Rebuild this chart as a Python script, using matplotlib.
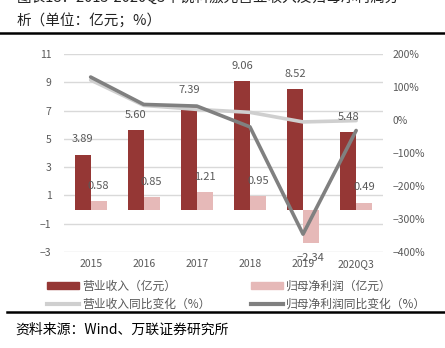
import matplotlib
matplotlib.use("Agg")
import matplotlib.pyplot as plt
import numpy as np
from matplotlib.lines import Line2D
from matplotlib.patches import Patch
from matplotlib.ticker import FuncFormatter

plt.rcParams['font.family'] = ['Noto Sans CJK SC', 'DejaVu Sans']
plt.rcParams['axes.unicode_minus'] = True

years = ['2015', '2016', '2017', '2018', '2019', '2020Q3']
revenue = [3.89, 5.60, 7.39, 9.06, 8.52, 5.48]          # 亿元
net_profit = [0.58, 0.85, 1.21, 0.95, -2.34, 0.49]      # 亿元
revenue_yoy = [121, 44, 32, 23, -6, -2]                 # %
profit_yoy = [130, 47, 42, -21, -346, -32]              # %

c_rev = '#953735'
c_np = '#E6B9B8'
c_rev_yoy = '#CFCFCF'
c_np_yoy = '#808080'
txt = '#595959'

fig = plt.figure(figsize=(4.45, 3.48), dpi=100)
ax = fig.add_axes([0.144, 0.276, 0.716, 0.569])
ax2 = ax.twinx()

x = np.arange(len(years))
w = 0.3
ax.bar(x - w / 2, revenue, w, color=c_rev, zorder=2)
ax.bar(x + w / 2, net_profit, w, color=c_np, zorder=2)

ax.set_xlim(-0.5, len(years) - 0.5)
ax.set_ylim(-3, 11)
ax.set_yticks(np.arange(-3, 12, 2))
ax.grid(axis='y', color='#D9D9D9', lw=1, zorder=0)
ax.set_axisbelow(True)
ax.set_xticks(x)
ax.set_xticklabels(years)

ax2.plot(x, revenue_yoy, color=c_rev_yoy, lw=2.6, solid_capstyle='round', zorder=3)
ax2.plot(x, profit_yoy, color=c_np_yoy, lw=2.6, solid_capstyle='round', zorder=4)
ax2.set_ylim(-400, 200)
ax2.set_yticks(np.arange(-400, 201, 100))
ax2.yaxis.set_major_formatter(FuncFormatter(lambda v, p: f'{v:.0f}%'.replace('-', '\u2212')))

for a in (ax, ax2):
    for s in a.spines.values():
        s.set_visible(False)
    a.tick_params(length=0, labelsize=7.5, labelcolor=txt)
ax.tick_params(axis='y', pad=9)
ax.tick_params(axis='x', pad=5)
ax2.tick_params(axis='y', pad=7)

# value labels, drawn on the top axes so they sit over the lines
for xi, v in zip(x, revenue):
    ax2.annotate(f'{v:.2f}', (xi - w / 2, v), xycoords=ax.transData,
                 xytext=(0, 11), textcoords='offset points',
                 ha='center', va='center', fontsize=8, color=txt, zorder=5)
for xi, v in zip(x, net_profit):
    off = 11 if v >= 0 else -11
    ax2.annotate(f'{v:.2f}'.replace('-', '\u2212'), (xi + w / 2, v), xycoords=ax.transData,
                 xytext=(0, off), textcoords='offset points',
                 ha='center', va='center', fontsize=8, color=txt, zorder=5)

handles = [Patch(color=c_rev), Line2D([], [], color=c_rev_yoy, lw=3),
           Patch(color=c_np), Line2D([], [], color=c_np_yoy, lw=3)]
labels = ['营业收入（亿元）', '营业收入同比变化（%）',
          '归母净利润（亿元）', '归母净利润同比变化（%）']
leg = fig.legend(handles, labels, ncol=2, loc='upper left',
                 bbox_to_anchor=(0.105, 0.197), frameon=False,
                 fontsize=8.5, handlelength=2.7, handleheight=0.6,
                 handletextpad=0.3, columnspacing=3.4, labelspacing=0.45,
                 borderpad=0, borderaxespad=0)
for t in leg.get_texts():
    t.set_color(txt)

# header / footer rules
fig.add_artist(Line2D([0.0, 1.0], [0.905, 0.905], transform=fig.transFigure,
                      color='black', lw=1.8))
fig.add_artist(Line2D([0.015, 1.0], [0.103, 0.103], transform=fig.transFigure,
                      color='black', lw=1.8))

fig.text(0.038, 1.006, '图表18：2015-2020Q3年锐科激光营业收入及归母净利润分',
         fontsize=10.5, color='#222222', va='center', ha='left')
fig.text(0.038, 0.94, '析（单位：亿元；%）', fontsize=10.5, color='#222222',
         va='center', ha='left')
fig.text(0.034, 0.052, '资料来源：Wind、万联证券研究所', fontsize=10,
         color='black', va='center', ha='left', style='italic')

fig.savefig('out.png', dpi=100)
